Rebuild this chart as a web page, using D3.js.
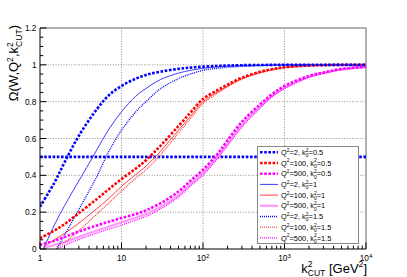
<!DOCTYPE html>
<html><head><meta charset="utf-8">
<script src="https://cdn.jsdelivr.net/npm/d3@7"></script>
<style>html,body{margin:0;padding:0;background:#fff;}svg{display:block;font-family:"Liberation Sans",Arial,sans-serif;}</style>
</head><body><svg id="c" width="407" height="277"></svg>
<script>
// ---- data ----
const kcut = [1, 1.5, 2, 3, 5, 7, 10, 15, 20, 30, 50, 70, 100, 150, 200, 300, 500, 700, 1000, 2000, 3000, 5000, 10000];
const q2_k05 = [0.23, 0.36, 0.47, 0.615, 0.76, 0.835, 0.885, 0.925, 0.945, 0.963, 0.978, 0.985, 0.99, 0.994, 0.996, 0.998, 0.999, 1.0, 1.0, 1.0, 1.0, 1.0, 1.0];
const q100_k05 = [0.058, 0.1, 0.135, 0.195, 0.272, 0.325, 0.38, 0.437, 0.482, 0.56, 0.668, 0.74, 0.815, 0.862, 0.893, 0.93, 0.962, 0.976, 0.987, 0.996, 0.998, 1.0, 1.0];
const q500_k05 = [0.022, 0.045, 0.065, 0.095, 0.128, 0.148, 0.168, 0.19, 0.21, 0.248, 0.312, 0.37, 0.43, 0.515, 0.59, 0.69, 0.785, 0.84, 0.885, 0.94, 0.958, 0.978, 0.99];
const kcut_k1 = [1.1, 1.5, 2, 3, 4, 5, 7, 10, 15, 20, 30, 50, 70, 100, 150, 200, 300, 500, 700, 1000, 2000, 3000, 5000, 10000];
const q2_k1 = [0.0, 0.13, 0.235, 0.37, 0.465, 0.54, 0.65, 0.745, 0.83, 0.872, 0.92, 0.955, 0.97, 0.981, 0.989, 0.993, 0.996, 0.998, 0.999, 1.0, 1.0, 1.0, 1.0, 1.0];
const q100_k1 = [0.01, 0.05, 0.085, 0.14, 0.185, 0.22, 0.275, 0.34, 0.405, 0.45, 0.53, 0.645, 0.72, 0.8, 0.852, 0.885, 0.925, 0.958, 0.973, 0.985, 0.995, 0.998, 1.0, 1.0];
const q500_k1 = [0.006, 0.022, 0.038, 0.066, 0.085, 0.1, 0.122, 0.145, 0.17, 0.19, 0.228, 0.293, 0.352, 0.412, 0.5, 0.572, 0.672, 0.772, 0.83, 0.876, 0.935, 0.955, 0.975, 0.988];
const kcut_k15 = [1.6, 2, 3, 4, 5, 7, 10, 15, 20, 30, 50, 70, 100, 150, 200, 300, 500, 700, 1000, 2000, 3000, 5000, 10000];
const q2_k15 = [0.0, 0.075, 0.215, 0.315, 0.395, 0.53, 0.645, 0.745, 0.8, 0.87, 0.925, 0.95, 0.97, 0.981, 0.987, 0.992, 0.996, 0.998, 0.999, 1.0, 1.0, 1.0, 1.0];
const q100_k15 = [0.01, 0.035, 0.1, 0.15, 0.19, 0.25, 0.315, 0.385, 0.43, 0.51, 0.63, 0.707, 0.79, 0.845, 0.88, 0.922, 0.956, 0.972, 0.984, 0.995, 0.998, 1.0, 1.0];
const q500_k15 = [0.0, 0.02, 0.052, 0.072, 0.087, 0.108, 0.13, 0.157, 0.177, 0.217, 0.282, 0.342, 0.402, 0.49, 0.562, 0.662, 0.765, 0.825, 0.87, 0.932, 0.953, 0.973, 0.987];
const refLine = 0.5;
const legendLabels = [
  ["2", "0.5"], ["100", "0.5"], ["500", "0.5"],
  ["2", "1"], ["100", "1"], ["500", "1"],
  ["2", "1.5"], ["100", "1.5"], ["500", "1.5"]
];
const xTickValues = [1, 10, 100, 1000, 10000];
const xTickLabels = ["1", "10", "10^2", "10^3", "10^4"];
const yTickValues = [0, 0.2, 0.4, 0.6, 0.8, 1, 1.2];
const yTickLabels = ["0", "0.2", "0.4", "0.6", "0.8", "1", "1.2"];

// ---- styles ----
const styles = [
  {stroke:"#0000ff", w:2.6, dash:"2.6,1.6"},
  {stroke:"#ff0000", w:2.6, dash:"2.6,1.6"},
  {stroke:"#ff00ff", w:2.6, dash:"2.6,1.6"},
  {stroke:"#3c3cff", w:1, dash:null},
  {stroke:"#ff3c3c", w:1, dash:null},
  {stroke:"#ff99ff", w:2.2, dash:null},
  {stroke:"#0000ff", w:1.3, dash:"1,1"},
  {stroke:"#ff4040", w:1.3, dash:"1,1"},
  {stroke:"#ff00ff", w:1.3, dash:"1,1"}
];
const seriesX = [kcut, kcut, kcut, kcut_k1, kcut_k1, kcut_k1, kcut_k15, kcut_k15, kcut_k15];
const seriesY = [q2_k05, q100_k05, q500_k05, q2_k1, q100_k1, q500_k1, q2_k15, q100_k15, q500_k15];

const L = 40, R = 366, T = 28, B = 249;
const x = d3.scaleLog().domain([1, 10000]).range([L, R]);
const y = d3.scaleLinear().domain([0, 1.2]).range([B, T]);
const svg = d3.select("#c");

// rich text helper: tokens: plain string, {sup}, {supsub:[a,b]}
function rich(t, parts, fs, sr, subShift) {
  sr = sr || 0.68;
  subShift = subShift || 0.3;
  let shift = 0;
  const sfs = fs * sr;
  parts.forEach(p => {
    if (typeof p === "string") {
      t.append("tspan").attr("dy", -shift).attr("font-size", fs).text(p); shift = 0;
    } else if (p.sup !== undefined) {
      const s = -0.42 * fs;
      t.append("tspan").attr("dy", s - shift).attr("font-size", sfs).text(p.sup); shift = s;
    } else if (p.supsub) {
      const s1 = -0.42 * fs, s2 = subShift * fs;
      t.append("tspan").attr("dy", s1 - shift).attr("font-size", sfs).text(p.supsub[0]);
      t.append("tspan").attr("dy", s2 - s1).attr("dx", -0.556 * sfs * p.supsub[0].length).attr("font-size", sfs).text(p.supsub[1]);
      shift = s2;
    }
  });
}

// grid
const grid = svg.append("g").attr("stroke", "#777").attr("stroke-width", 0.8).attr("stroke-dasharray", "1,1.6");
[10, 100, 1000].forEach(v => grid.append("line").attr("x1", x(v)).attr("x2", x(v)).attr("y1", T).attr("y2", B));
[0.2, 0.4, 0.6, 0.8, 1.0].forEach(v => grid.append("line").attr("x1", L).attr("x2", R).attr("y1", y(v)).attr("y2", y(v)));

// frame top/right
svg.append("path").attr("d", `M${L},${T}H${R}V${B}`).attr("fill", "none").attr("stroke", "#999").attr("stroke-width", 1.5);

// curves
svg.append("clipPath").attr("id", "pc").append("rect").attr("x", L).attr("y", T).attr("width", R - L).attr("height", B - T);
const line = d3.line().x(d => x(d[0])).y(d => y(d[1])).curve(d3.curveCatmullRom.alpha(0.5));
const curves = svg.append("g").attr("clip-path", "url(#pc)");
curves.append("line").attr("x1", L).attr("x2", R).attr("y1", y(refLine)).attr("y2", y(refLine))
  .attr("stroke", styles[0].stroke).attr("stroke-width", styles[0].w).attr("stroke-dasharray", styles[0].dash);
[5, 4, 3, 8, 7, 6, 2, 1, 0].forEach(i => {
  const pts = seriesX[i].map((k, j) => [k, seriesY[i][j]]);
  curves.append("path").attr("d", line(pts)).attr("fill", "none")
    .attr("stroke", styles[i].stroke).attr("stroke-width", styles[i].w)
    .attr("stroke-dasharray", styles[i].dash);
});

// axes
const ax = svg.append("g");
ax.append("line").attr("x1", L).attr("x2", L).attr("y1", T).attr("y2", B).attr("stroke", "#000");
ax.append("line").attr("x1", L).attr("x2", R).attr("y1", B).attr("y2", B).attr("stroke", "#000");
d3.range(0, 1.2001, 0.05).forEach(v => {
  const major = Math.abs(v / 0.2 - Math.round(v / 0.2)) < 1e-6;
  ax.append("line").attr("x1", L).attr("x2", L + (major ? 6.5 : 3.3)).attr("y1", y(v)).attr("y2", y(v)).attr("stroke", "#000");
});
for (let d = 1; d < 10000; d *= 10) {
  for (let m = 1; m <= 9; m++) {
    const v = d * m;
    ax.append("line").attr("x1", x(v)).attr("x2", x(v)).attr("y1", B).attr("y2", B - (m === 1 ? 6.5 : 3.3)).attr("stroke", "#000");
  }
}
ax.append("line").attr("x1", R).attr("x2", R).attr("y1", B).attr("y2", B - 6.5).attr("stroke", "#000");

// tick labels
const fsTick = 8.3;
yTickValues.forEach((v, i) => {
  svg.append("text").attr("x", L - 3.5).attr("y", y(v) + 3).attr("text-anchor", "end").attr("font-size", fsTick).attr("fill", "#000").text(yTickLabels[i]);
});
xTickValues.forEach((v, i) => {
  const lab = xTickLabels[i];
  const t = svg.append("text").attr("x", x(v)).attr("y", 261).attr("text-anchor", "middle").attr("font-size", fsTick).attr("fill", "#000");
  if (lab.includes("^")) { const [b, e] = lab.split("^"); rich(t, [b, {sup: e}], fsTick, 0.75); }
  else t.text(lab);
});

// axis titles
const xt = svg.append("text").attr("x", R + 1).attr("y", 272.5).attr("text-anchor", "end").attr("font-size", 13).attr("fill", "#000");
rich(xt, ["k", {supsub: ["2", "CUT"]}, " [GeV", {sup: "2"}, "]"], 13, 0.66, 0.25);
const yt = svg.append("text").attr("transform", `translate(18,${T - 3}) rotate(-90)`).attr("text-anchor", "end").attr("font-size", 13).attr("fill", "#000");
rich(yt, ["\u03A9(W,Q", {sup: "2"}, ",k", {supsub: ["2", "CUT"]}, ")"], 13, 0.66);

// legend
const lg = svg.append("g");
lg.append("rect").attr("x", 257.5).attr("y", 146.5).attr("width", 101).attr("height", 97).attr("fill", "#fff").attr("stroke", "#888").attr("stroke-width", 1);
const fsL = 7.4;
legendLabels.forEach((lab, i) => {
  const yy = 152.3 + i * 10.7;
  lg.append("line").attr("x1", 260).attr("x2", 278).attr("y1", yy).attr("y2", yy)
    .attr("stroke", styles[i].stroke).attr("stroke-width", styles[i].w).attr("stroke-dasharray", styles[i].dash);
  const t = lg.append("text").attr("x", 281).attr("y", yy + 2.6).attr("font-size", fsL).attr("fill", "#000");
  rich(t, ["Q", {sup: "2"}, "=" + lab[0] + ", k", {supsub: ["2", "0"]}, "=" + lab[1]], fsL);
});
</script></body></html>
